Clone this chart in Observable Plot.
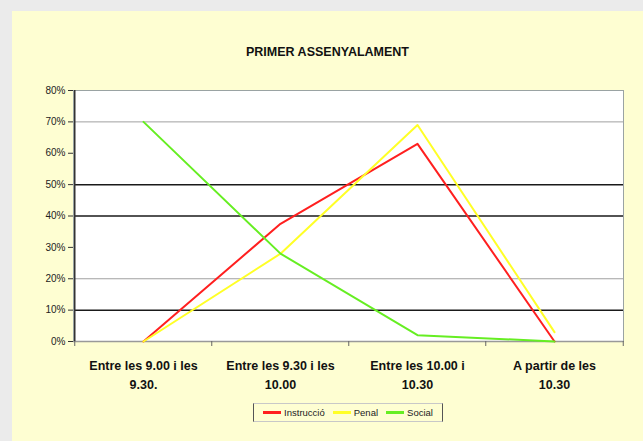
<!DOCTYPE html>
<html><head><meta charset="utf-8">
<script src="https://cdn.jsdelivr.net/npm/d3@7"></script>
<script src="https://cdn.jsdelivr.net/npm/@observablehq/plot@0.6"></script>
<style>
body{margin:0;background:#ebebeb;width:643px;height:441px;overflow:hidden;font-family:"Liberation Sans",Arial,sans-serif;}
#panel{position:absolute;left:12px;top:11px;width:631px;height:430px;background:#fefed2;}
#chart{position:absolute;left:0;top:0;}
#title{position:absolute;left:0;width:631px;top:34px;text-align:center;font-weight:bold;font-size:12.5px;color:#111;}
#legend{position:absolute;left:241px;top:392px;width:188px;height:17px;border-top:1px solid #c8c8c8;border-bottom:1px solid #c8c8c8;border-left:1.5px solid #555;border-right:1.5px solid #555;display:flex;align-items:center;justify-content:center;font-size:9.5px;color:#222;}
.item{display:flex;align-items:center;margin:0 4px;}
.sw{display:inline-block;width:18px;height:3px;margin-right:3px;}
</style>
</head><body>
<div id="panel">
  <div id="chart"></div>
  <div id="title"></div>
  <div id="legend"></div>
</div>
<script>
const titleText = "PRIMER ASSENYALAMENT";
const categories = ["Entre les 9.00 i les 9.30.", "Entre les 9.30 i les 10.00", "Entre les 10.00 i 10.30", "A partir de les 10.30"];
const categoryLabels = ["Entre les 9.00 i les\n9.30.", "Entre les 9.30 i les\n10.00", "Entre les 10.00 i\n10.30", "A partir de les\n10.30"];
const series = ["Instrucció", "Penal", "Social"];
const colors = ["#ff1f1f", "#ffff26", "#66ee22"];
const instruccio = [0, 37.5, 63, 0];
const penal = [0, 28, 69, 3];
const social = [70, 28, 2, 0];
const yTicks = [0, 10, 20, 30, 40, 50, 60, 70, 80];
const gridDark = [10, 40, 50];
const gridLight = [20, 70];

const values = [instruccio, penal, social];
const rows = [];
series.forEach((s, si) => categories.forEach((c, i) => rows.push({cat: c, serie: s, v: values[si][i]})));

const W = 631, H = 430, ML = 61, MR = 20, MT = 79, MB = 100;
const step = (W - ML - MR) / categories.length;

const plot = Plot.plot({
  width: W, height: H,
  marginLeft: ML, marginRight: MR, marginTop: MT, marginBottom: MB,
  style: {background: "transparent", fontFamily: "Liberation Sans, Arial, sans-serif", overflow: "visible"},
  x: {type: "point", domain: categories, padding: 0.5, axis: null, label: null},
  y: {domain: [0, 80], label: null},
  color: {domain: series, range: colors},
  marks: [
    Plot.frame({fill: "white"}),
    Plot.ruleY(gridLight, {stroke: "#a0a0a0", strokeWidth: 1}),
    Plot.ruleY(gridDark, {stroke: "#1a1a1a", strokeWidth: 1.5}),
    Plot.frame({stroke: "#9aa3a3"}),
    Plot.ruleY([0], {stroke: "#999", strokeWidth: 1.5}),
    Plot.ruleX([categories[0]], {dx: -step / 2, stroke: "#333", strokeWidth: 1.5}),
    Plot.ruleX(categories, {x: d => d, y1: 0, y2: 0, dx: -step / 2, insetBottom: -5, stroke: "#666"}),
    Plot.ruleX([categories[categories.length - 1]], {x: d => d, y1: 0, y2: 0, dx: step / 2, insetBottom: -5, stroke: "#666"}),
    Plot.axisY(yTicks, {label: null, tickFormat: d => d + "%", tickSize: 5, tickPadding: 3, fontSize: 10, stroke: "#333", fill: "#222"}),
    Plot.line(rows, {x: "cat", y: "v", z: "serie", stroke: "serie", strokeWidth: 2}),
    Plot.text(categories, {x: d => d, frameAnchor: "bottom", text: (d, i) => categoryLabels[i], lineAnchor: "top", dy: 15, lineHeight: 1.5, fontSize: 12.5, fontWeight: "bold", fill: "#111"})
  ]
});
document.getElementById("chart").appendChild(plot);
document.getElementById("title").textContent = titleText;
const leg = document.getElementById("legend");
series.forEach((s, i) => {
  const it = document.createElement("span");
  it.className = "item";
  const sw = document.createElement("span");
  sw.className = "sw";
  sw.style.background = colors[i];
  it.appendChild(sw);
  it.appendChild(document.createTextNode(s));
  leg.appendChild(it);
});
</script>
</body></html>
